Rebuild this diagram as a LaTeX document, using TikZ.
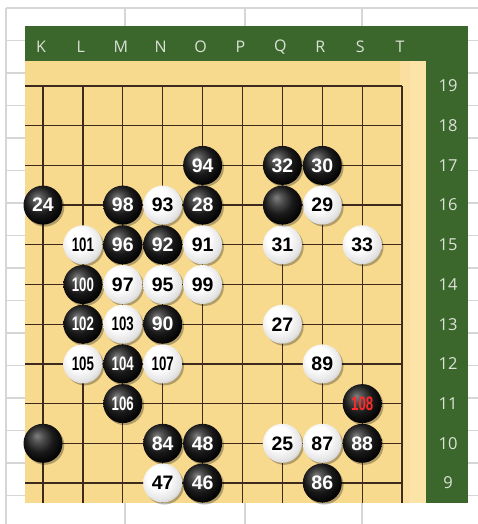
\documentclass[tikz,border=0pt]{standalone}
\usepackage{fontspec}
\newfontfamily\numfont{Liberation Sans}
\newfontfamily\labfont{Open Sans}
\definecolor{sheetgray}{HTML}{D6D6D6}
\definecolor{felt}{HTML}{3B672D}
\definecolor{wood}{HTML}{F8DA8E}
\definecolor{woodmid}{HTML}{FADFA0}
\definecolor{woodlight}{HTML}{FCE4A8}
\definecolor{gridbrown}{HTML}{3E2A1C}
\definecolor{labgray}{HTML}{DCE2D6}
\definecolor{redno}{HTML}{FF2A2A}
\pgfdeclareradialshading{bstone}{\pgfpoint{-8bp}{10bp}}{color(0bp)=(black!50); color(8bp)=(black!70); color(18bp)=(black!90); color(30bp)=(black); color(50bp)=(black)}
\pgfdeclareradialshading{wstone}{\pgfpoint{-8bp}{10bp}}{color(0bp)=(white); color(14bp)=(white); color(26bp)=(black!10); color(38bp)=(black!32); color(50bp)=(black!55)}
\tikzset{
  sheet/.style={draw=sheetgray, line width=1.5pt},
  gridline/.style={draw=gridbrown, line width=1.3pt},
  stonebase/.style={circle, minimum size=39pt, inner sep=0pt,
    font=\numfont\bfseries\fontsize{19.5}{19.5}\selectfont,
    preaction={fill=black, opacity=0.28, transform canvas={shift={(1.8pt,-2pt)}}}},
  stoneb/.style={stonebase, shading=bstone, text=white},
  stonew/.style={stonebase, shading=wstone, text=black},
  collab/.style={text=labgray, font=\labfont\fontsize{16}{16}\selectfont},
  rowlab/.style={text=labgray, font=\labfont\fontsize{16.5}{16.5}\selectfont},
}
\newcommand\stnum[1]{\ifnum#1>99 \scalebox{0.68}[1]{#1}\else #1\fi}
\begin{document}
\begin{tikzpicture}[x=1pt,y=-1pt]
\useasboundingbox (0,0) rectangle (478,524);
\fill[white] (0,0) rectangle (478,524);
% spreadsheet grid
\foreach \k in {0,...,15} \draw[sheet] (6,{8+32.5*\k}) -- (478,{8+32.5*\k});
\foreach \xx in {6,125,245,362} \draw[sheet] (\xx,8) -- (\xx,524);
% felt and board
\fill[felt] (25,26) rectangle (468,503);
\fill[wood] (25,61) rectangle (426,503);
\fill[woodmid] (400,61) rectangle (426,503);
\fill[woodlight] (410,61) rectangle (426,503);
% grid
\foreach \c in {0,...,9} \draw[gridline] ({43+39.9*\c},86) -- ({43+39.9*\c},503);
\foreach \r in {9,...,19} \draw[gridline] (25,{86+39.7*(19-\r)}) -- (402.1,{86+39.7*(19-\r)});
% column labels
\foreach \c/\l in {0/K,1/L,2/M,3/N,4/O,5/P,6/Q,7/R,8/S,9/T}
  \node[collab] (col\l) at ({41+39.9*\c},47) {\l};
% row labels
\foreach \r in {9,...,19}
  \node[rowlab] (row\r) at (448,{86+39.7*(19-\r)}) {\r};
% stones
\foreach \c/\r/\t/\n in {
  4/17/b/94, 6/17/b/32, 7/17/b/30,
  0/16/b/24, 2/16/b/98, 3/16/w/93, 4/16/b/28, 7/16/w/29,
  1/15/w/101, 2/15/b/96, 3/15/b/92, 4/15/w/91, 6/15/w/31, 8/15/w/33,
  1/14/b/100, 2/14/w/97, 3/14/w/95, 4/14/w/99,
  1/13/b/102, 2/13/w/103, 3/13/b/90, 6/13/w/27,
  1/12/w/105, 2/12/b/104, 3/12/w/107, 7/12/w/89,
  2/11/b/106,
  3/10/b/84, 4/10/b/48, 6/10/w/25, 7/10/w/87, 8/10/b/88,
  3/9/w/47, 4/9/b/46, 7/9/b/86}
  \node[stone\t] (s\n) at ({43+39.9*\c},{86+39.7*(19-\r)}) {\stnum{\n}};
\node[stoneb, text=redno] (s108) at ({43+39.9*8},{86+39.7*8}) {\stnum{108}};
\node[stoneb] (q16) at ({43+39.9*6},{86+39.7*3}) {};
\node[stoneb] (k10) at ({43+39.9*0},{86+39.7*9}) {};
\end{tikzpicture}
\end{document}
